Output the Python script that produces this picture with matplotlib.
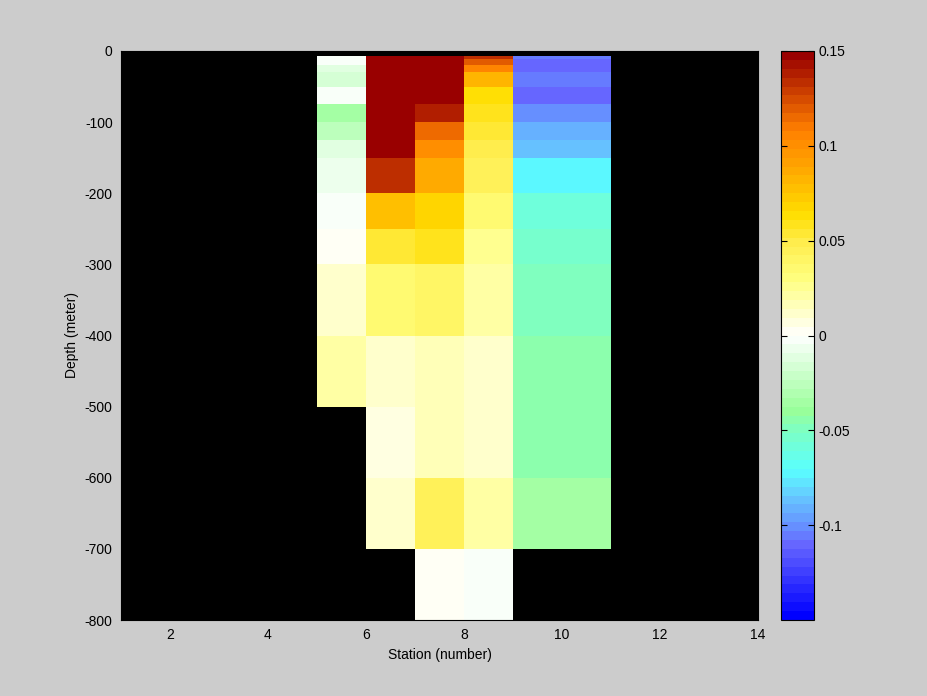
import numpy as np
import matplotlib
matplotlib.use("Agg")
import matplotlib.pyplot as plt
from matplotlib.colors import LinearSegmentedColormap

# Station edges (x) and depth edges (y)
station_edges = [5, 6, 7, 8, 9, 11]
depth_edges = [-7, -11, -20, -30, -50, -75, -100, -125, -150, -200,
               -250, -300, -400, -500, -600, -700, -800]

nan = np.nan
# values per station column, from top row to bottom row
st5 = [-0.003, -0.003, -0.012, -0.017, -0.002, -0.035, -0.025, -0.013,
       -0.008, -0.004, 0.002, 0.010, 0.022, nan, nan, nan]
st6 = [0.15, 0.15, 0.15, 0.15, 0.15, 0.15, 0.15, 0.15,
       0.135, 0.078, 0.055, 0.033, 0.012, 0.006, 0.012, nan]
st7 = [0.15, 0.15, 0.15, 0.15, 0.15, 0.14, 0.115, 0.10,
       0.088, 0.068, 0.057, 0.040, 0.017, 0.018, 0.045, 0.004]
st8 = [0.133, 0.12, 0.105, 0.082, 0.065, 0.060, 0.055, 0.050,
       0.046, 0.037, 0.027, 0.022, 0.014, 0.013, 0.022, -0.003]
st9 = [-0.105, -0.111, -0.111, -0.107, -0.111, -0.102, -0.093, -0.088,
       -0.075, -0.060, -0.052, -0.049, -0.044, -0.043, -0.037, nan]

xticks = [2, 4, 6, 8, 10, 12, 14]
yticks = [0, -100, -200, -300, -400, -500, -600, -700, -800]
cbar_ticks = [-0.1, -0.05, 0, 0.05, 0.1, 0.15]
cbar_labels = ['-0.1', '-0.05', '0', '0.05', '0.1', '0.15']

vmin, vmax = -0.15, 0.15
anchors = [
    (-0.150, (0.0, 0.0, 1.0)),
    (-0.112, (0.4, 0.4, 1.0)),
    (-0.100, (0.4, 0.6, 1.0)),
    (-0.085, (0.4, 0.8, 1.0)),
    (-0.072, (0.35, 1.0, 1.0)),
    (-0.050, (0.5, 1.0, 0.75)),
    (-0.040, (0.6, 1.0, 0.6)),
    (0.000, (1.0, 1.0, 1.0)),
    (0.030, (1.0, 1.0, 0.5)),
    (0.050, (1.0, 0.93, 0.3)),
    (0.065, (1.0, 0.87, 0.0)),
    (0.090, (1.0, 0.65, 0.0)),
    (0.110, (1.0, 0.5, 0.0)),
    (0.150, (0.6, 0.0, 0.0)),
]
cmap = LinearSegmentedColormap.from_list(
    'custom', [((v - vmin) / (vmax - vmin), c) for v, c in anchors], N=64)

plt.rcParams['font.family'] = ['Liberation Sans', 'DejaVu Sans']
plt.rcParams['axes.unicode_minus'] = False
fig = plt.figure(figsize=(9.28, 6.96), dpi=100, facecolor=(0.8, 0.8, 0.8))
ax = fig.add_axes([121/928, 1-620/696, 637/928, 569/696])
ax.set_facecolor('black')

C = np.ma.masked_invalid(np.array([st5, st6, st7, st8, st9]).T)
mesh = ax.pcolormesh(station_edges, depth_edges, C, cmap=cmap,
                     vmin=vmin, vmax=vmax, shading='flat')
ax.set_xlim(1, 14)
ax.set_ylim(-800, 0)
ax.set_xticks(xticks)
ax.set_yticks(yticks)
ax.tick_params(direction='in', length=0, labelsize=10, pad=6)
for s in ax.spines.values():
    s.set_color('black')
ax.set_xlabel('Station (number)', fontsize=10, labelpad=4)
ax.set_ylabel('Depth (meter)', fontsize=10, labelpad=4)

cax = fig.add_axes([781/928, 1-620/696, 33/928, 569/696])
cb = fig.colorbar(mesh, cax=cax)
cb.set_ticks(cbar_ticks)
cb.set_ticklabels(cbar_labels)
cax.tick_params(direction='in', length=4, labelsize=10, left=True, right=True, color='black')
cb.outline.set_edgecolor('black')

fig.savefig('out.png', dpi=100, facecolor=fig.get_facecolor())
